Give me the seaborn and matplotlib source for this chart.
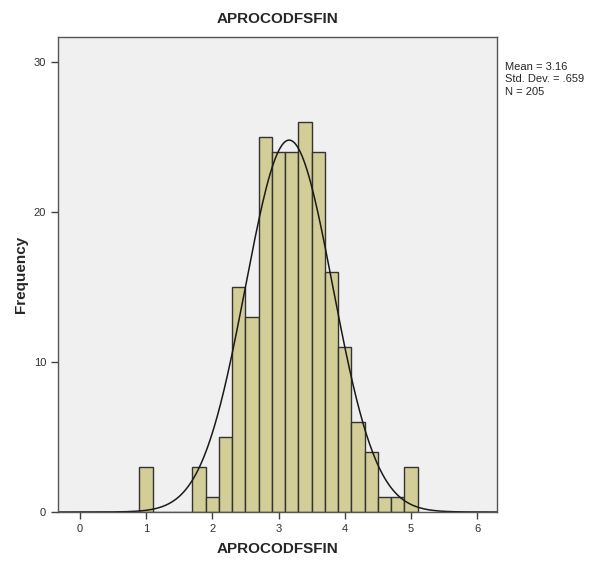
import numpy as np
import pandas as pd
import matplotlib
matplotlib.use("Agg")
import matplotlib.pyplot as plt
import seaborn as sns

# histogram bins (width 0.2) and counts
bin_edges = [0.9, 1.1, 1.3, 1.5, 1.7, 1.9, 2.1, 2.3, 2.5, 2.7, 2.9, 3.1,
             3.3, 3.5, 3.7, 3.9, 4.1, 4.3, 4.5, 4.7, 4.9, 5.1]
counts = [3, 0, 0, 0, 3, 1, 5, 15, 13, 25, 24, 24, 26, 24, 16, 11, 6, 4, 1, 1, 3]
mean_val = 3.16
sd_val = 0.659
n_val = 205
x_ticks = [0, 1, 2, 3, 4, 5, 6]
y_ticks = [0, 10, 20, 30]

sns.set_style("white")
plt.rcParams['font.family'] = ['Liberation Sans', 'DejaVu Sans']

edges = np.array(bin_edges)
df = pd.DataFrame({"center": (edges[:-1] + edges[1:]) / 2, "count": counts})

fig = plt.figure(figsize=(5.89, 5.61), dpi=100)
ax = fig.add_axes([0.0985, 0.0873, 0.7455, 0.8467])
ax.set_facecolor("#F0F0F0")

sns.histplot(data=df, x="center", weights="count", bins=list(bin_edges), ax=ax,
             color="#D3CE97", edgecolor="#333333", linewidth=1.0, alpha=1.0)

# normal curve scaled to counts
binw = edges[1] - edges[0]
xs = np.linspace(-0.33, 6.3, 400)
ys = n_val * binw / (sd_val * np.sqrt(2 * np.pi)) * np.exp(-0.5 * ((xs - mean_val) / sd_val) ** 2)
ax.plot(xs, ys, color="#1A1A1A", linewidth=1.1)

ax.set_xlim(-0.33, 6.3)
ax.set_ylim(0, 31.7)
ax.set_xticks(x_ticks)
ax.set_yticks(y_ticks)
ax.tick_params(axis='both', direction='out', length=5, width=1, color="#404040",
               labelsize=8, labelcolor="#303030", bottom=True, left=True)
for s in ax.spines.values():
    s.set_color("#555555")
    s.set_linewidth(1.0)

ax.set_title("APROCODFSFIN", fontsize=11, fontweight='bold', pad=10)
ax.set_xlabel("APROCODFSFIN", fontsize=11, fontweight='bold', labelpad=6)
ax.set_ylabel("Frequency", fontsize=11, fontweight='bold', labelpad=4)

fig.text(0.857, 0.89, "Mean = 3.16\nStd. Dev. = .659\nN = 205",
         fontsize=8, va='top', ha='left', linespacing=1.3)

plt.savefig("out.png", dpi=100)
